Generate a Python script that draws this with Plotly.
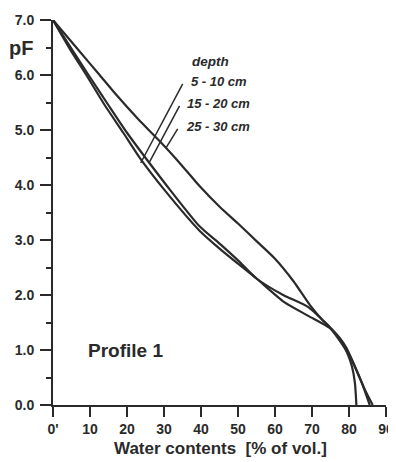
import plotly.graph_objects as go

# Water contents [% of vol.] and pF for each depth
depth_labels = ["5 - 10 cm", "15 - 20 cm", "25 - 30 cm"]

wc_5_10 = [0, 4.5, 9, 14, 19, 23.7, 30, 39.6, 45.1, 50, 55, 62.5, 69, 74.8, 77.5, 79.5, 80.8, 81.6, 82]
pf_5_10 = [7.0, 6.48, 6.0, 5.45, 4.95, 4.47, 3.92, 3.17, 2.84, 2.57, 2.30, 1.87, 1.62, 1.40, 1.2, 0.95, 0.7, 0.4, 0.0]

wc_15_20 = [0, 4.8, 9.6, 15, 20, 25.5, 32, 39.6, 45.1, 50, 55, 62.2, 69, 74.8, 78, 80.5, 82.5, 84.5, 86.4]
pf_15_20 = [7.0, 6.5, 6.0, 5.45, 4.95, 4.45, 3.88, 3.25, 2.93, 2.63, 2.30, 2.0, 1.78, 1.41, 1.12, 0.85, 0.55, 0.25, 0.0]

wc_25_30 = [0, 6.3, 12.6, 17.1, 23, 28.8, 34, 39.6, 45.1, 50, 55, 60, 65, 69.4, 72.5, 74.8, 77.5, 79.3, 81.5, 83.5, 85.6]
pf_25_30 = [7.0, 6.5, 6.0, 5.64, 5.2, 4.8, 4.42, 3.98, 3.6, 3.3, 2.98, 2.66, 2.25, 1.82, 1.57, 1.42, 1.22, 1.04, 0.72, 0.4, 0.0]

x_tickvals = [0, 10, 20, 30, 40, 50, 60, 70, 80, 90]
x_ticktext = ["0'", "10", "20", "30", "40", "50", "60", "70", "80", "90"]
y_tickvals = [0, 1, 2, 3, 4, 5, 6, 7]
y_ticktext = ["0.0", "1.0", "2.0", "3.0", "4.0", "5.0", "6.0", "7.0"]

# leader lines from labels to curves: (x0, y0, x1, y1) in data units
leaders = [
    (35.05, 5.84, 23.7, 4.40),
    (34.2, 5.44, 26.1, 4.42),
    (33.7, 5.02, 30.5, 4.67),
]
label_pos = [(36.7, 5.88), (35.6, 5.49), (35.3, 5.06)]

INK = "#2a2a2a"
FONT = "Liberation Sans, Arial, sans-serif"

fig = go.Figure()
for xs, ys, name in [(wc_5_10, pf_5_10, depth_labels[0]),
                     (wc_15_20, pf_15_20, depth_labels[1]),
                     (wc_25_30, pf_25_30, depth_labels[2])]:
    fig.add_trace(go.Scatter(x=xs, y=ys, mode="lines", name=name,
                             line=dict(color=INK, width=2.2, shape="spline", smoothing=0.6),
                             cliponaxis=False, showlegend=False))

for (x0, y0, x1, y1) in leaders:
    fig.add_shape(type="line", xref="x", yref="y", x0=x0, y0=y0, x1=x1, y1=y1,
                  line=dict(color=INK, width=1.5))

fig.add_annotation(x=36.9, y=6.24, xref="x", yref="y", text="<i>depth</i>", showarrow=False,
                   xanchor="left", yanchor="middle",
                   font=dict(family=FONT, size=13.5, color=INK, weight="bold"))
for (lx, ly), lab in zip(label_pos, depth_labels):
    fig.add_annotation(x=lx, y=ly, xref="x", yref="y", text="<i>" + lab + "</i>", showarrow=False,
                       xanchor="left", yanchor="middle",
                       font=dict(family=FONT, size=13, color=INK, weight="bold"))

fig.add_annotation(x=8.8, y=1.0, xref="x", yref="y", text="Profile 1", showarrow=False,
                   xanchor="left", yanchor="middle",
                   font=dict(family=FONT, size=19, color=INK, weight="bold"))
# plot area spans px 53..386 horizontally, 20..405 vertically (window coords)
fig.add_annotation(x=(21 - 53) / 333, y=(405 - 48) / 385, xref="paper", yref="paper", text="pF",
                   showarrow=False, xanchor="center", yanchor="middle",
                   font=dict(family=FONT, size=20, color=INK, weight="bold"))
fig.add_annotation(x=(220 - 53) / 333, y=(405 - 448) / 385, xref="paper", yref="paper",
                   text="Water contents  [% of vol.]",
                   showarrow=False, xanchor="center", yanchor="middle",
                   font=dict(family=FONT, size=17, color=INK, weight="bold"))

# the page body adds an 8 px offset, so the figure is shifted by its margins
fig.update_layout(
    width=396, height=454,
    margin=dict(l=45, r=18, t=12, b=57),
    paper_bgcolor="white", plot_bgcolor="white",
    font=dict(family=FONT, color=INK),
    xaxis=dict(range=[0, 90], tickvals=x_tickvals, ticktext=x_ticktext, automargin=False,
               showgrid=False, zeroline=False, showline=True, linecolor=INK, linewidth=2,
               ticks="outside", ticklen=10, tickwidth=2, tickcolor=INK,
               tickfont=dict(family=FONT, size=14, color=INK, weight="bold")),
    yaxis=dict(range=[0, 7], tickvals=y_tickvals, ticktext=y_ticktext, automargin=False,
               showgrid=False, zeroline=False, showline=True, linecolor=INK, linewidth=2,
               ticks="outside", ticklen=11, tickwidth=2, tickcolor=INK,
               ticklabelstandoff=3,
               minor=dict(dtick=0.5, tick0=0, ticks="outside", ticklen=5, tickwidth=2, tickcolor=INK),
               tickfont=dict(family=FONT, size=14, color=INK, weight="bold")),
)

fig.write_html("out.html")
